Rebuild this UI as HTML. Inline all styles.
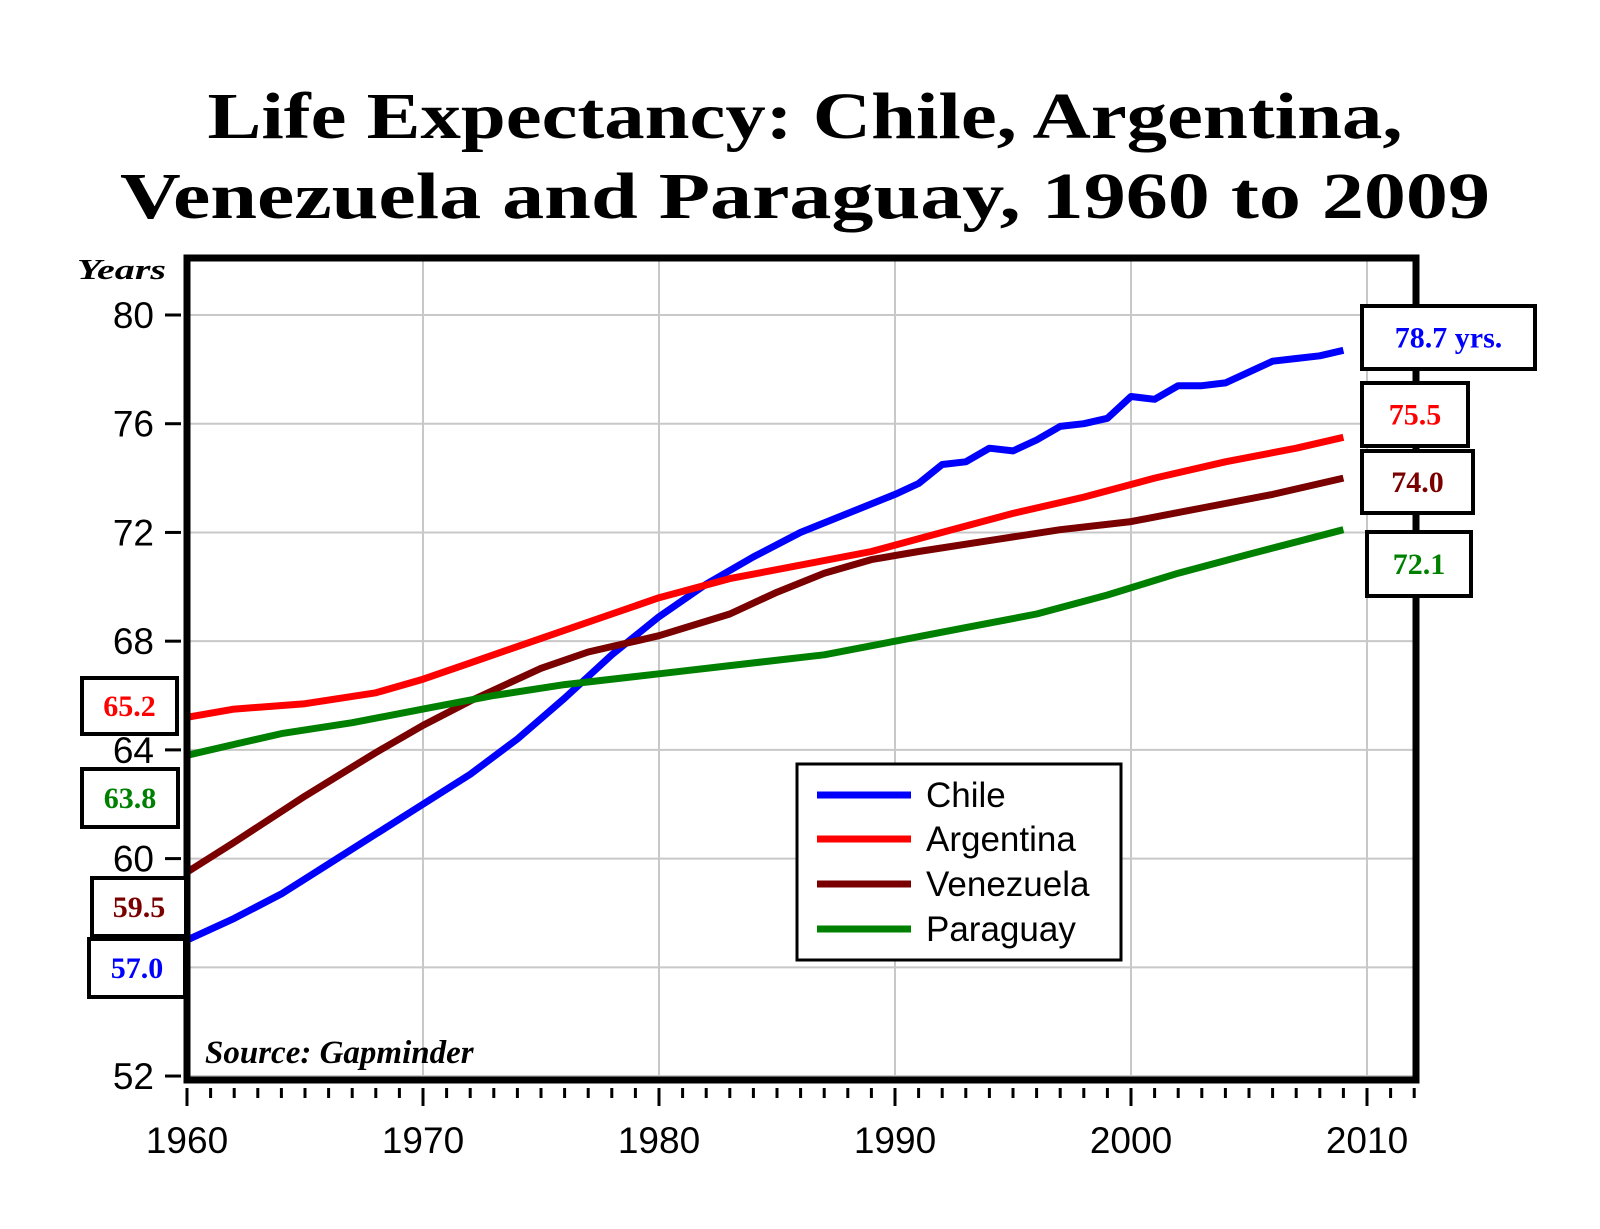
<!DOCTYPE html>
<html><head><meta charset="utf-8"><style>
body{margin:0;background:#fff;}
svg{display:block;}
</style></head><body>
<svg id="chart" width="1600" height="1229" viewBox="0 0 1600 1229" xmlns="http://www.w3.org/2000/svg">
<text x="805" y="138" text-anchor="middle" font-family="Liberation Serif, serif" font-weight="bold" font-size="66" textLength="1195" lengthAdjust="spacingAndGlyphs">Life Expectancy: Chile, Argentina,</text>
<text x="805" y="218" text-anchor="middle" font-family="Liberation Serif, serif" font-weight="bold" font-size="66" textLength="1370" lengthAdjust="spacingAndGlyphs">Venezuela and Paraguay, 1960 to 2009</text>
<text x="77" y="279" font-family="Liberation Serif, serif" font-weight="bold" font-style="italic" font-size="29" textLength="89" lengthAdjust="spacingAndGlyphs">Years</text>
<g id="grid"></g>
<g id="series"></g>
<rect x="187" y="258" width="1229" height="822" fill="none" stroke="#000" stroke-width="7"/>
<g id="axes"></g>
<text x="205" y="1063" font-family="Liberation Serif, serif" font-weight="bold" font-style="italic" font-size="33">Source: Gapminder</text>
<g>
<rect x="797" y="764" width="324" height="196" fill="#fff" stroke="#000" stroke-width="3"/>
<line x1="817" y1="795" x2="911" y2="795" stroke="#0000ff" stroke-width="7"/>
<text x="926" y="807" font-family="Liberation Sans, sans-serif" font-size="35">Chile</text>
<line x1="817" y1="839" x2="911" y2="839" stroke="#ff0000" stroke-width="7"/>
<text x="926" y="851" font-family="Liberation Sans, sans-serif" font-size="35">Argentina</text>
<line x1="817" y1="884" x2="911" y2="884" stroke="#7a0000" stroke-width="7"/>
<text x="926" y="896" font-family="Liberation Sans, sans-serif" font-size="35">Venezuela</text>
<line x1="817" y1="929" x2="911" y2="929" stroke="#008000" stroke-width="7"/>
<text x="926" y="941" font-family="Liberation Sans, sans-serif" font-size="35">Paraguay</text>
</g>
<g id="labels"></g>
</svg>
<script>
const years = {
 chile:[1960,1962,1964,1966,1968,1970,1972,1974,1976,1978,1980,1982,1984,1986,1988,1990,1991,1992,1993,1994,1995,1996,1997,1998,1999,2000,2001,2002,2003,2004,2005,2006,2007,2008,2009],
 argentina:[1960,1962,1965,1968,1970,1972,1975,1978,1980,1983,1986,1989,1992,1995,1998,2001,2004,2007,2009],
 venezuela:[1960,1962,1965,1968,1970,1972,1975,1977,1980,1983,1985,1987,1989,1991,1994,1997,2000,2003,2006,2009],
 paraguay:[1960,1962,1964,1967,1970,1973,1976,1980,1983,1987,1990,1993,1996,1999,2002,2005,2009]
};
const chileValues=[57.0,57.8,58.7,59.8,60.9,62.0,63.1,64.4,65.9,67.5,68.9,70.1,71.1,72.0,72.7,73.4,73.8,74.5,74.6,75.1,75.0,75.4,75.9,76.0,76.2,77.0,76.9,77.4,77.4,77.5,77.9,78.3,78.4,78.5,78.7];
const argentinaValues=[65.2,65.5,65.7,66.1,66.6,67.2,68.1,69.0,69.6,70.3,70.8,71.3,72.0,72.7,73.3,74.0,74.6,75.1,75.5];
const venezuelaValues=[59.5,60.6,62.3,63.9,64.9,65.8,67.0,67.6,68.2,69.0,69.8,70.5,71.0,71.3,71.7,72.1,72.4,72.9,73.4,74.0];
const paraguayValues=[63.8,64.2,64.6,65.0,65.5,66.0,66.4,66.8,67.1,67.5,68.0,68.5,69.0,69.7,70.5,71.2,72.1];
const yTicks=[52,56,60,64,68,72,76,80];
const yTickLabels=["52","","60","64","68","72","76","80"];
const xTicks=[1960,1970,1980,1990,2000,2010];
const xTickLabels=["1960","1970","1980","1990","2000","2010"];
const startLabels=["57.0","59.5","63.8","65.2"];
const endLabels=["78.7 yrs.","74.0","72.1","75.5"];

const NS="http://www.w3.org/2000/svg";
function x(yr){return 187+(yr-1960)*23.6;}
function y(v){return 315+(80-v)*27.18;}
function mk(tag,attrs,parent){const e=document.createElementNS(NS,tag);for(const k in attrs)e.setAttribute(k,attrs[k]);parent.appendChild(e);return e;}
const grid=document.getElementById('grid'),axes=document.getElementById('axes'),ser=document.getElementById('series'),lab=document.getElementById('labels');
yTicks.forEach((t,i)=>{
 const g=mk('line',{x1:187,x2:1416,y1:y(t),y2:y(t),stroke:'#c8c8c8','stroke-width':2},grid);
 
 
 const tk=mk('line',{x1:165,x2:181,y1:y(t),y2:y(t),stroke:'#000','stroke-width':3},axes);
 
 
 const lbl=yTickLabels[i];
 if(lbl){
 const tx=mk('text',{x:154,y:y(t)+13,'text-anchor':'end','font-family':'Liberation Sans, sans-serif','font-size':37},axes);
 tx.textContent=lbl;
 
 
 }
});
xTicks.forEach((t,i)=>{
 if(t>1960){const g=mk('line',{x1:x(t),x2:x(t),y1:258,y2:1080,stroke:'#c8c8c8','stroke-width':2},grid);
 
 }
 const tx=mk('text',{x:x(t),y:1153,'text-anchor':'middle','font-family':'Liberation Sans, sans-serif','font-size':37},axes);
 tx.textContent=xTickLabels[i];
 
 
});
for(let yr=1960;yr<=2012;yr++){
 const major=yr%10===0;
 const tk=mk('line',{x1:x(yr),x2:x(yr),y1:1088,y2:major?1106:1098,stroke:'#000','stroke-width':3},axes);
 
 
}
const seriesDefs=[['chile',chileValues,'#0000ff'],['argentina',argentinaValues,'#ff0000'],['venezuela',venezuelaValues,'#7a0000'],['paraguay',paraguayValues,'#008000']];
seriesDefs.forEach(([n,vals,c])=>{
 const d=vals.map((v,i)=>(i?'L':'M')+x(years[n][i]).toFixed(1)+','+y(v).toFixed(1)).join(' ');
 const p=mk('path',{d:d,fill:'none',stroke:c,'stroke-width':7,'stroke-linejoin':'round'},ser);
 
 
});
const boxes=[
 [endLabels[0],1362,306,173,63,'#0000ff','end-label-chile'],
 [endLabels[3],1362,383,106,63,'#ff0000','end-label-argentina'],
 [endLabels[1],1362,451,111,62,'#7a0000','end-label-venezuela'],
 [endLabels[2],1367,532,104,64,'#008000','end-label-paraguay'],
 [startLabels[3],82,678,95,56,'#ff0000','start-label-argentina'],
 [startLabels[2],82,769,96,58,'#008000','start-label-paraguay'],
 [startLabels[1],92,878,94,58,'#7a0000','start-label-venezuela'],
 [startLabels[0],89,939,96,58,'#0000ff','start-label-chile']
];
boxes.forEach(([t,bx,by,w,h,c,name])=>{
 const g=mk('g',{},lab);
 
 
 mk('rect',{x:bx,y:by,width:w,height:h,fill:'#fff',stroke:'#000','stroke-width':4},g);
 const tx=mk('text',{x:bx+w/2,y:by+h/2+10,'text-anchor':'middle','font-family':'Liberation Serif, serif','font-weight':'bold','font-size':30,fill:c},g);
 tx.textContent=t;
});
</script>
</body></html>
